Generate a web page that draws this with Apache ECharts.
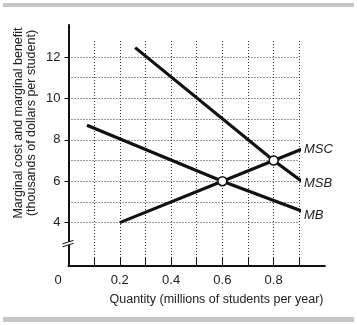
<!DOCTYPE html>
<html>
<head>
<meta charset="utf-8">
<script src="https://cdn.jsdelivr.net/npm/echarts@6/dist/echarts.min.js"></script>
<style>
html,body{margin:0;padding:0;background:#fff;}
#c{width:357px;height:325px;}
</style>
</head>
<body>
<div id="c"></div>
<script>
// ---- data ----
const xTickLabels = [0, 0.2, 0.4, 0.6, 0.8];
const yTickLabels = [4, 6, 8, 10, 12];
const mscPoints = [[0.2, 4], [0.6, 6], [0.8, 7], [0.94, 7.7]];
const msbPoints = [[0.26, 12.45], [0.8, 7], [0.915, 5.95]];
const mbPoints  = [[0.072, 8.7], [0.6, 6], [0.922, 4.5]];
const equilibriumPoints = [[0.6, 6], [0.8, 7]];
const yAxisTitle = ['Marginal cost and marginal benefit', '(thousands of dollars per student)'];
const xAxisTitle = 'Quantity (millions of students per year)';

const FONT = 'Liberation Sans';
const INK = '#111';
const TXT = '#222';
const GRIDC = '#333';
const DOTS = [1, 2];

const chart = echarts.init(document.getElementById('c'), null, {renderer: 'canvas'});

function lineSeries(name, pts, off) {
  return {
    type: 'line', name: name, xAxisIndex: 0, yAxisIndex: 0,
    data: pts, symbol: 'none', clip: false, z: 5,
    lineStyle: {color: INK, width: 3.2},
    endLabel: {show: true, formatter: name, fontFamily: FONT, fontSize: 13,
      fontStyle: 'italic', color: TXT, distance: 3, offset: off}
  };
}

const option = {
  animation: false,
  backgroundColor: '#fff',
  grid: [
    {left: 68.5, top: 41, width: 230.8, height: 224.7},   // A: data + vertical grid
    {left: 68.5, top: 57, width: 230.8, height: 165.7},   // B: horizontal grid, y labels
    {left: 68.5, top: 25, width: 256.4, height: 240.7}    // frame: axis lines
  ],
  xAxis: [
    {type: 'value', gridIndex: 0, min: 0, max: 0.9, interval: 0.1,
      axisLine: {show: false},
      axisTick: {show: true, inside: true, length: 8, lineStyle: {color: INK, width: 1}},
      axisLabel: {show: true, margin: 8,
        fontFamily: FONT, fontSize: 13, color: TXT,
        formatter: function (v) {
          const k = Math.round(v * 10);
          if (k === 0) return '{z|0}';
          return (k % 2 === 0 && k <= 8) ? (k / 10).toFixed(1) : '';
        },
        rich: {z: {fontFamily: FONT, fontSize: 13, color: TXT, padding: [0, 21, 0, 0]}}},
      splitLine: {show: true, lineStyle: {color: GRIDC, type: DOTS, width: 1}}},
    {type: 'value', gridIndex: 1, min: 0, max: 0.9, interval: 0.1,
      axisLine: {show: false}, axisTick: {show: false}, axisLabel: {show: false},
      splitLine: {show: false}},
    {type: 'value', gridIndex: 2, min: 0, max: 1.0,
      axisLine: {show: true, lineStyle: {color: INK, width: 2}},
      axisTick: {show: false}, axisLabel: {show: false}, splitLine: {show: false}}
  ],
  yAxis: [
    {type: 'value', gridIndex: 0, min: 1.92, max: 12.77,
      axisLine: {show: false}, axisTick: {show: false}, axisLabel: {show: false},
      splitLine: {show: false}},
    {type: 'value', gridIndex: 1, min: 4, max: 12, interval: 1,
      axisLine: {show: false},
      axisTick: {show: false},
      axisLabel: {show: true, margin: 8, fontFamily: FONT, fontSize: 13, color: TXT,
        formatter: v => (yTickLabels.indexOf(Math.round(v)) >= 0 ? String(Math.round(v)) : '')},
      splitLine: {show: true, lineStyle: {color: GRIDC, type: DOTS, width: 1}}},
    {type: 'value', gridIndex: 2, min: 1.92, max: 13.55,
      axisLine: {show: true, lineStyle: {color: INK, width: 2}},
      axisTick: {show: true, customValues: yTickLabels, length: 4, lineStyle: {color: INK, width: 1}},
      axisLabel: {show: false}, splitLine: {show: false}}
  ],
  series: [
    lineSeries('MSC', mscPoints, [0, 0]),
    lineSeries('MSB', msbPoints, [0, 3]),
    lineSeries('MB', mbPoints, [0, 5]),
    {type: 'scatter', xAxisIndex: 0, yAxisIndex: 0, data: equilibriumPoints,
      symbol: 'circle', symbolSize: 9, z: 10,
      itemStyle: {color: '#fff', borderColor: INK, borderWidth: 1.5, opacity: 1}}
  ]
};
chart.setOption(option);

// decorative elements: frame bars, axis titles, y-axis break
const brk = chart.convertToPixel({xAxisIndex: 2, yAxisIndex: 2}, [0, 3]);
chart.setOption({
  graphic: [
    {type: 'rect', shape: {x: 3, y: 3, width: 351, height: 4}, style: {fill: '#c6c6c6'}},
    {type: 'rect', shape: {x: 3, y: 317, width: 351, height: 5}, style: {fill: '#c6c6c6'}},
    {type: 'text', x: 25.5, y: 123, rotation: Math.PI / 2, z: 20,
      style: {text: yAxisTitle.join('\n'), fontFamily: FONT, fontSize: 12.5, fill: TXT,
        align: 'center', verticalAlign: 'middle', lineHeight: 13}},
    {type: 'text', x: 216.5, y: 300, z: 20,
      style: {text: xAxisTitle, fontFamily: FONT, fontSize: 12.5, fill: TXT,
        align: 'center', verticalAlign: 'middle'}},
    {type: 'rect', z: 30, shape: {x: brk[0] - 2, y: brk[1] - 1.5, width: 4, height: 3}, style: {fill: '#fff'}},
    {type: 'line', z: 31, shape: {x1: brk[0] - 6, y1: brk[1] + 0.5, x2: brk[0] + 5, y2: brk[1] - 3},
      style: {stroke: INK, lineWidth: 1}},
    {type: 'line', z: 31, shape: {x1: brk[0] - 6, y1: brk[1] + 3.5, x2: brk[0] + 5, y2: brk[1]},
      style: {stroke: INK, lineWidth: 1}}
  ]
});
</script>
</body>
</html>
